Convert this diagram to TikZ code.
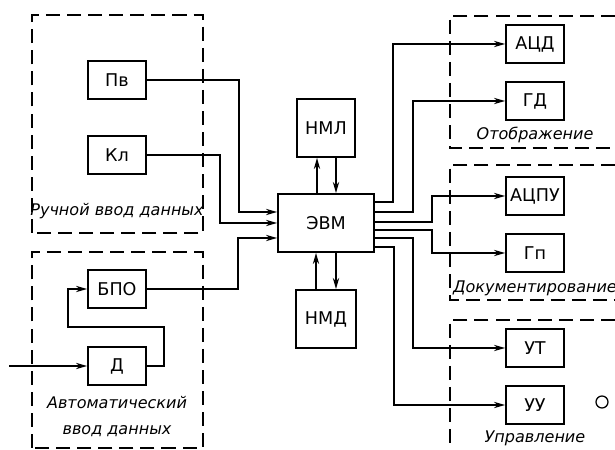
\documentclass[tikz,border=0pt]{standalone}
\usepackage{fontspec}
\setmainfont{DejaVu Sans}
\usetikzlibrary{positioning,arrows.meta}

\tikzset{
  blk/.style={draw, line width=1.2pt, minimum width=1.45cm, minimum height=0.95cm,
    inner sep=0pt, font=\fontsize{12.5}{14}\selectfont},
  grp/.style={draw, line width=1.1pt, dash pattern=on 10pt off 5pt},
  grplbl/.style={font=\fontsize{11.4}{19}\selectfont\itshape, align=center},
  lnk/.style={line width=1.1pt, -{Stealth[length=8pt,width=4.5pt]}},
}

\begin{document}
\begin{tikzpicture}[on grid]
\useasboundingbox (0,0) rectangle (15.375,11.25);
%% computer and stores
\node[blk, minimum width=2.4cm, minimum height=1.45cm] (evm) at (8.15,5.675) {ЭВМ};
\node[blk, minimum height=1.45cm, above=2.375 of evm] (nml) {НМЛ};
\node[blk, minimum width=1.5cm, minimum height=1.45cm, below=2.4 of evm] (nmd) {НМД};
%% input
\node[blk, above left=3.575 and 5.225 of evm] (pv) {Пв};
\node[blk, above left=1.7 and 5.225 of evm] (kl) {Кл};
\node[blk, below left=1.65 and 5.225 of evm] (bpo) {БПО};
\node[blk, below left=3.575 and 5.225 of evm] (d) {Д};
\coordinate (din) at ([xshift=-1.95cm]d.west);
%% output
\node[blk, above right=4.475 and 5.225 of evm] (acd) {АЦД};
\node[blk, above right=3.05 and 5.225 of evm] (gd) {ГД};
\node[blk, above right=0.675 and 5.225 of evm] (acpu) {АЦПУ};
\node[blk, below right=0.75 and 5.225 of evm] (gp) {Гп};
\node[blk, below right=3.125 and 5.225 of evm] (ut) {УТ};
\node[blk, below right=4.55 and 5.225 of evm] (uu) {УУ};
% group labels
\node[grplbl, below=1.4 of kl] (lman) {Ручной ввод данных};
\node[grplbl, below=1.26 of d] (lauto) {Автоматический\\ввод данных};
\node[grplbl, below=0.85 of gd] (ldisp) {Отображение};
\node[grplbl, below=0.89 of gp] (ldoc) {Документирование};
\node[grplbl, below=0.825 of uu] (lctl) {Управление};
% group frames
\draw[grp] (0.8,5.425) rectangle (5.075,10.875);
\draw[grp] (0.8,0.05) rectangle (5.075,4.95);
\draw[grp] (15.375,10.85) -| (11.25,7.55) -- (15.375,7.55);
\draw[grp] (15.375,7.125) -| (11.25,3.75) -- (15.375,3.75);
\draw[grp] (15.375,3.25) -| (11.25,0);
% inputs to the computer
\draw[lnk] (pv.east) -| ([xshift=-0.95cm,yshift=0.275cm]evm.west) -- ([yshift=0.275cm]evm.west);
\draw[lnk] (kl.east) -| ([xshift=-1.425cm]evm.west) -- (evm.west);
\draw[lnk] (bpo.east) -| ([xshift=-0.975cm,yshift=-0.375cm]evm.west) -- ([yshift=-0.375cm]evm.west);
\draw[lnk] (d.east) -- ++(0.425,0) |- ([xshift=-0.475cm,yshift=-0.95cm]bpo.west) |- (bpo.west);
\draw[lnk] (din) -- (d.west);
% stores
\draw[lnk] ([xshift=-0.225cm]evm.north) -- ([xshift=-0.225cm]evm.north |- nml.south);
\draw[lnk] ([xshift=0.25cm]evm.north |- nml.south) -- ([xshift=0.25cm]evm.north);
\draw[lnk] ([xshift=-0.25cm]evm.south |- nmd.north) -- ([xshift=-0.25cm]evm.south);
\draw[lnk] ([xshift=0.25cm]evm.south) -- ([xshift=0.25cm]evm.south |- nmd.north);
% outputs
\draw[lnk] ([yshift=0.525cm]evm.east) -- ++(0.45,0) |- (acd.west);
\draw[lnk] ([yshift=0.275cm]evm.east) -- ++(0.95,0) |- (gd.west);
\draw[lnk] ([yshift=0.025cm]evm.east) -- ++(1.425,0) |- (acpu.west);
\draw[lnk] ([yshift=-0.175cm]evm.east) -- ++(1.425,0) |- (gp.west);
\draw[lnk] ([yshift=-0.375cm]evm.east) -- ++(0.95,0) |- (ut.west);
\draw[lnk] ([yshift=-0.6cm]evm.east) -- ++(0.475,0) |- (uu.west);
\draw[line width=0.9pt] (15.05,1.2) circle (0.15);
\end{tikzpicture}
\end{document}
